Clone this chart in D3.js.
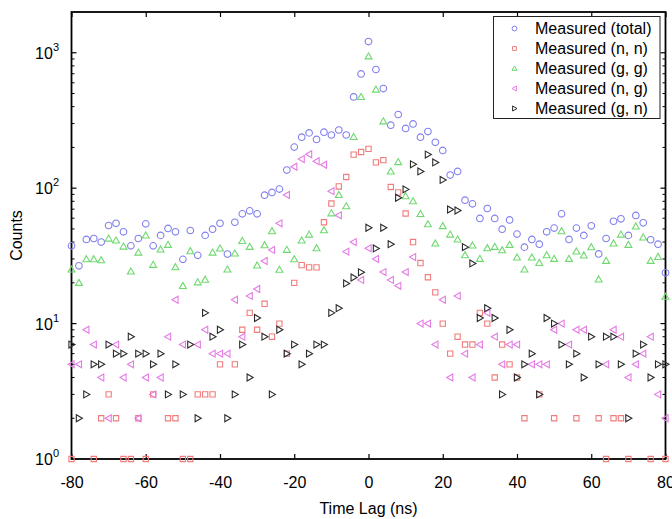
<!DOCTYPE html>
<html>
<head>
<meta charset="utf-8">
<script src="https://cdn.jsdelivr.net/npm/d3@7"></script>
<style>
  body { margin: 0; background: #fff; }
  text { font-family: "Liberation Sans", Arial, sans-serif; }
</style>
</head>
<body>
<svg id="chart"></svg>
<script>
// --- data (counts per 2 ns bin, null = empty bin) ---
const timeLag = [-80,-78,-76,-74,-72,-70,-68,-66,-64,-62,-60,-58,-56,-54,-52,-50,-48,-46,-44,-42,
  -40,-38,-36,-34,-32,-30,-28,-26,-24,-22,-20,-18,-16,-14,-12,-10,-8,-6,-4,-2,
  0,2,4,6,8,10,12,14,16,18,20,22,24,26,28,30,32,34,36,38,
  40,42,44,46,48,50,52,54,56,58,60,62,64,66,68,70,72,74,76,78,80];

const total = [37.5,26.7,41.8,42.5,40,53,55,47.6,37.5,42.5,54.5,37.5,44.8,50.4,47.6,29.8,48.7,31.9,44.8,49.8,
  55,32.6,56,64.6,68,64.6,88.8,93,98.4,136,201,238,256,229,259,247,269,247,472,698,
  1210,752,544,292,350,276,298,238,262,218,190,125,133,81.5,76.6,59.8,70.8,59.8,49.8,58.3,
  45.8,36.7,41.8,38.6,47.6,50.7,64.6,41.8,50.7,44.8,52.7,32.7,42.5,57,59.4,44.8,62.9,55.5,41.6,38.6,23.7];

const nn = [1,null,null,1,2,3,2,1,1,2,1,3,null,2,2,1,1,3,3,3,
  5,null,5,9,12,9,14,8,10,6,20,27,26,26,56,77,103,121,177,185,
  195,155,161,102,93,65,40,28,22,17,10,6,8,7,7,12,10,4,7,5,
  4,2,null,3,null,2,null,null,2,null,null,2,1,2,2,1,null,null,1,null,1];

const gg = [25.1,20,29.9,29.9,29.4,42.5,41.1,37.1,24.3,33.5,44.8,27.2,35.3,38.2,26.1,19,34.3,20.2,21.1,33.5,
  35.9,25.1,33,40.8,36.9,26.9,38,48.2,25,35.1,29.9,41.1,45.5,36.1,49,65.3,89.3,73.6,239,472,
  942,535,312,133,156,87.3,80.2,64.6,54.2,39.1,52.5,45.5,41.8,32,37.8,30.1,36.1,36.9,34.9,38.2,
  30.8,25.1,30.8,28.1,32,30.1,48.2,30.1,34.1,31.9,36.7,21.2,29.1,39.1,45.5,38.2,52.2,43.3,29.1,31.1,15.8];

const ng = [5,5,9,7,4,2,7,4,5,2,4,3,4,8,15,7,null,7,9,6,
  6,6,15,8,16,18,29,35,55,89,144,164,178,158,149,95,63,34,40,21,
  36,30,24,21,19,24,31,10,10,7,15,4,16,6,4,7,12,8,5,7,
  7,null,5,5,5,9,10,7,9,9,null,null,5,9,8,4,5,6,8,3,2];

const gn = [7,2,3,5,5,7,6,6,8,6,6,5,6,3,5,3,7,2,12,8,
  9,2,3,7,4,11,8,3,9,6,7,5,6,7,7,12,13,19.8,21.9,23.9,
  51,35.9,51,38.6,85,98,150,133,177,155,115,69.6,68.4,36.7,27.8,11,13,11,3,9,
  4,5,6,3,11,10,7,5,6,4,8,5,8,8,5,2,6,7,4,5,5];

const xTicks = [-80, -60, -40, -20, 0, 20, 40, 60, 80];
const yMajor = [1, 10, 100, 1000];
const yMinor = [2,3,4,5,6,7,8,9,20,30,40,50,60,70,80,90,200,300,400,500,600,700,800,900];

const series = [
  { name: "Measured (total)", values: total, shape: "circle",   color: "#7f7fef" },
  { name: "Measured (n, n)",  values: nn,    shape: "square",   color: "#f07c7c" },
  { name: "Measured (g, g)",  values: gg,    shape: "triUp",    color: "#6fd96f" },
  { name: "Measured (n, g)",  values: ng,    shape: "triLeft",  color: "#e47be4" },
  { name: "Measured (g, n)",  values: gn,    shape: "triRight", color: "#2a2a2a" }
];

// --- setup ---
const width = 672, height = 519;
const margin = { top: 12, right: 6.5, bottom: 60, left: 71.5 };

const svg = d3.select("#chart").attr("width", width).attr("height", height);

const x = d3.scaleLinear().domain([-80, 80]).range([margin.left, width - margin.right]);
const y = d3.scaleLog().domain([1, 2000]).range([height - margin.bottom, margin.top]);

// marker path for each shape, scaled by s
function shapePath(shape, s) {
  if (shape === "circle") return d3.symbol(d3.symbolCircle, Math.PI * s * s)();
  if (shape === "square") return d3.symbol(d3.symbolSquare, (s * 1.6) * (s * 1.6))();
  const h = s * 1.05;
  if (shape === "triUp")    return `M0,${-h}L${h},${h * 0.75}L${-h},${h * 0.75}Z`;
  if (shape === "triLeft")  return `M${-h},0L${h * 0.75},${-h}L${h * 0.75},${h}Z`;
  return `M${h},0L${-h * 0.75},${-h}L${-h * 0.75},${h}Z`;
}

// --- axes (ticks inside, box on four sides) ---
const x0 = margin.left, x1 = width - margin.right;
const y0 = height - margin.bottom, y1 = margin.top;

svg.append("g")
  .attr("transform", `translate(0,${y0})`)
  .call(d3.axisBottom(x).tickValues(xTicks).tickSize(-5).tickSizeOuter(0).tickPadding(18)
    .tickFormat(d => d))
  .call(g => g.select(".domain").remove())
  .call(g => g.selectAll("line").attr("stroke-width", 1.2))
  .call(g => g.selectAll("text").attr("font-size", 16).attr("fill", "#000")
    .attr("font-family", "Liberation Sans, Arial, sans-serif"));

svg.append("g")
  .attr("transform", `translate(0,${y1})`)
  .call(d3.axisTop(x).tickValues(xTicks).tickSize(-5).tickSizeOuter(0).tickFormat(""))
  .call(g => g.select(".domain").remove())
  .call(g => g.selectAll("line").attr("stroke-width", 1.2));

[[x0, 1], [x1, -1]].forEach(([px, dir]) => {
  const g = svg.append("g");
  g.selectAll("line.major").data(yMajor).enter().append("line")
    .attr("x1", px).attr("x2", px + dir * 5)
    .attr("y1", d => y(d)).attr("y2", d => y(d))
    .attr("stroke", "#000").attr("stroke-width", 1.2);
  g.selectAll("line.minor").data(yMinor).enter().append("line")
    .attr("x1", px).attr("x2", px + dir * 3)
    .attr("y1", d => y(d)).attr("y2", d => y(d))
    .attr("stroke", "#000").attr("stroke-width", 1);
});

// y tick labels as 10^n
const yLab = svg.append("g").selectAll("text").data(yMajor).enter().append("text")
  .attr("x", x0 - 12.5)
  .attr("y", d => y(d) + 6)
  .attr("text-anchor", "end")
  .attr("font-size", 16);
yLab.append("tspan").text("10");
yLab.append("tspan").attr("font-size", 11).attr("dy", -8).text(d => Math.round(Math.log10(d)));

svg.append("rect")
  .attr("x", x0).attr("y", y1)
  .attr("width", x1 - x0).attr("height", y0 - y1)
  .attr("fill", "none").attr("stroke", "#000").attr("stroke-width", 1.8);

// axis titles
svg.append("text")
  .attr("x", (x0 + x1) / 2).attr("y", 514)
  .attr("text-anchor", "middle").attr("font-size", 16)
  .text("Time Lag (ns)");

svg.append("text")
  .attr("transform", `translate(22,${(y0 + y1) / 2}) rotate(-90)`)
  .attr("text-anchor", "middle").attr("font-size", 16)
  .text("Counts");

// --- markers ---
series.forEach(s => {
  const pts = s.values.map((v, i) => ({ t: timeLag[i], v })).filter(d => d.v != null && d.v > 0);
  svg.append("g").selectAll("path").data(pts).enter().append("path")
    .attr("transform", d => `translate(${x(d.t)},${y(d.v)})`)
    .attr("d", shapePath(s.shape, 3.3))
    .attr("fill", "none")
    .attr("stroke", s.color)
    .attr("stroke-width", 1.1);
});

// --- legend ---
const legend = svg.append("g");
legend.append("rect")
  .attr("x", 493.5).attr("y", 16.5).attr("width", 166.5).attr("height", 102)
  .attr("fill", "#fff").attr("stroke", "#222").attr("stroke-width", 1);

series.forEach((s, i) => {
  const cy = 28.5 + i * 20;
  legend.append("path")
    .attr("transform", `translate(514.5,${cy})`)
    .attr("d", shapePath(s.shape, 2.4))
    .attr("fill", "none").attr("stroke", s.color).attr("stroke-width", 1);
  legend.append("text")
    .attr("x", 535).attr("y", cy + 5.8)
    .attr("font-size", 16)
    .text(s.name);
});
</script>
</body>
</html>
